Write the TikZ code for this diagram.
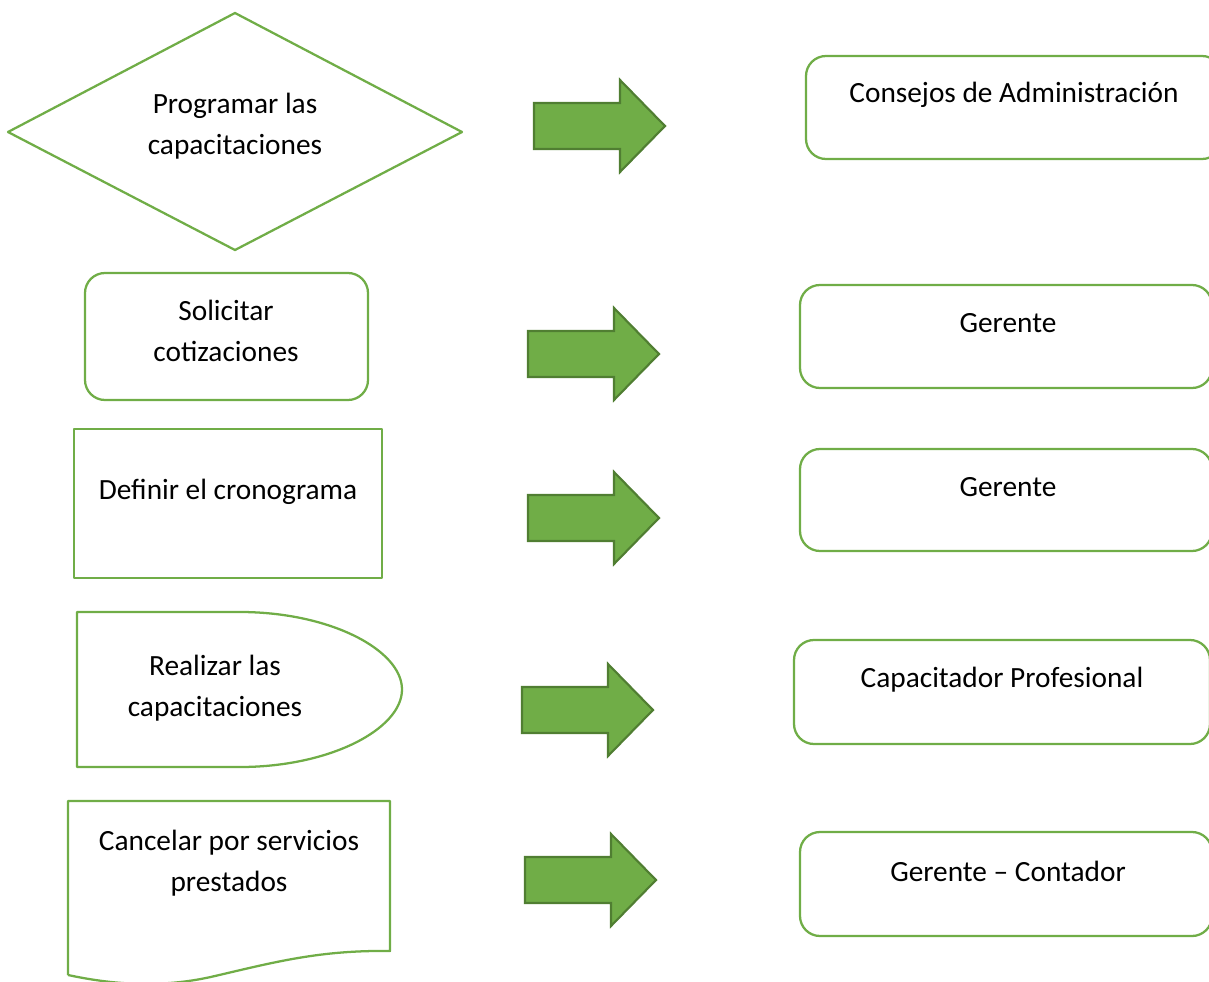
\documentclass[tikz,border=0pt]{standalone}
\usepackage{fontspec}
\setmainfont{Carlito}
\definecolor{shapegreen}{HTML}{70AD47}
\definecolor{arrowedge}{HTML}{507E32}
\begin{document}
\begin{tikzpicture}[x=0.75pt,y=-0.75pt,
  outline/.style={draw=shapegreen, line width=1.7pt, line join=round},
  boxr/.style={outline, rounded corners=15pt},
  lbl/.style={font=\fontsize{22}{30.75}\selectfont, align=center, inner sep=0pt, text=black},
  blockarrow/.pic={
    \filldraw[fill=shapegreen, draw=arrowedge, line width=1.6pt, line join=miter]
      (0,-23) -- (86,-23) -- (86,-46) -- (131,0) -- (86,46) -- (86,23) -- (0,23) -- cycle;
  }]
\useasboundingbox (0,0) rectangle (1209,981);
\clip (0,0) rectangle (1209,981);

% left column: process shapes
\draw[outline] (8,132) -- (235,13) -- (462,132) -- (235,250) -- cycle;
\node[lbl] (programar) at (235,126) {Programar las\\capacitaciones};

\draw[boxr] (85,273) rectangle (368,400);
\node[lbl] (solicitar) at (226,331) {Solicitar\\cotizaciones};

\draw[outline] (74,429) rectangle (382,578);
\node[lbl] (definir) at (228,492) {Definir el cronograma};

\draw[outline] (240,767) -- (77,767) -- (77,612) -- (240,612)
  .. controls (330,612) and (402,650) .. (402,689.5)
  .. controls (402,729) and (330,767) .. (240,767);
\node[lbl] (realizar) at (215,688) {Realizar las\\capacitaciones};

\draw[outline] (68,975) -- (68,801) -- (390,801) -- (390,951)
  .. controls (320,950) and (275,962) .. (215,976)
  .. controls (160,989) and (110,984) .. (68,975);
\node[lbl] (cancelar) at (229,863) {Cancelar por servicios\\prestados};

% block arrows
\pic at (534,126) {blockarrow};
\pic at (528,354) {blockarrow};
\pic at (528,518) {blockarrow};
\pic at (522,710) {blockarrow};
\pic at (525,880) {blockarrow};

% right column: responsible parties
\draw[boxr] (806,56) rectangle (1222,159);
\node[lbl] (consejo) at (1014,95) {Consejos de Administración};

\draw[boxr] (800,285) rectangle (1212,388);
\node[lbl] (gerente1) at (1008,323) {Gerente};

\draw[boxr] (800,449) rectangle (1212,551);
\node[lbl] (gerente2) at (1008,487) {Gerente};

\draw[boxr] (794,640) rectangle (1210,744);
\node[lbl] (capacitador) at (1002,680) {Capacitador Profesional};

\draw[boxr] (800,832) rectangle (1212,936);
\node[lbl] (contador) at (1008,871) {Gerente – Contador};
\end{tikzpicture}
\end{document}
